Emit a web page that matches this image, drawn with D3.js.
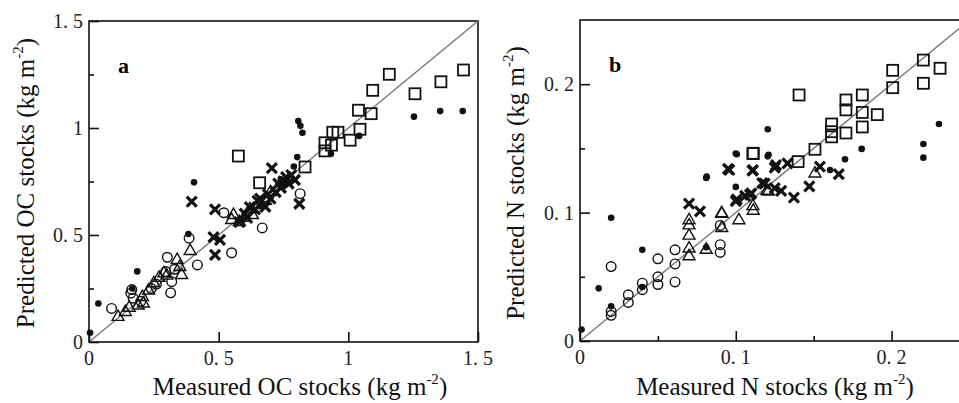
<!DOCTYPE html>
<html>
<head>
<meta charset="utf-8">
<script src="https://cdn.jsdelivr.net/npm/d3@7/dist/d3.min.js"></script>
<style>
  body { margin: 0; background: #fff; }
  svg { display: block; font-family: "Liberation Serif", "DejaVu Serif", serif; }
</style>
</head>
<body>
<svg id="chart" width="959" height="403"></svg>
<script>
// ---- panel a : OC stocks, [measured, predicted]
const ocDots = [[0.004,0.043],[0.036,0.18],[0.167,0.25],[0.186,0.33],[0.383,0.505],[0.405,0.746],
  [0.803,0.864],[0.807,1.033],[0.815,1.01],[0.823,0.978],[0.933,0.88],[1.042,0.963],
  [1.253,1.053],[1.354,1.079],[1.441,1.079],[0.74,0.76],[0.79,0.82],[0.66,0.64]];
const ocCircles = [[0.087,0.157],[0.161,0.228],[0.165,0.245],[0.17,0.205],[0.302,0.396],[0.296,0.329],
  [0.315,0.23],[0.319,0.282],[0.386,0.485],[0.418,0.36],[0.52,0.604],[0.55,0.417],[0.668,0.533],
  [0.814,0.693],[0.26,0.27],[0.2,0.19],[0.24,0.25],[0.33,0.34]];
const ocTriangles = [[0.112,0.117],[0.155,0.16],[0.21,0.18],[0.206,0.21],[0.25,0.274],[0.289,0.321],
  [0.34,0.383],[0.357,0.313],[0.39,0.425],[0.557,0.593],[0.63,0.593],[0.6,0.58],[0.58,0.56],
  [0.65,0.64],[0.68,0.66],[0.27,0.3],[0.3,0.31],[0.35,0.35],[0.14,0.14],[0.19,0.17],[0.23,0.24],
  [0.7,0.7],[0.55,0.57],[0.62,0.62]];
const ocCrosses = [[0.396,0.656],[0.486,0.62],[0.486,0.407],[0.505,0.477],[0.48,0.49],[0.705,0.812],
  [0.76,0.77],[0.68,0.632],[0.811,0.646],[0.794,0.757],[0.6,0.6],[0.62,0.63],[0.64,0.62],
  [0.66,0.67],[0.69,0.69],[0.72,0.7],[0.74,0.72],[0.75,0.75],[0.78,0.78],[0.58,0.56],
  [0.65,0.66],[0.7,0.67],[0.73,0.74],[0.61,0.58],[0.77,0.74]];
const ocSquares = [[0.576,0.869],[0.658,0.744],[0.833,0.818],[0.91,0.893],[0.91,0.931],[0.935,0.92],
  [0.94,0.98],[0.96,0.98],[1.007,0.943],[1.045,0.994],[1.039,1.083],[1.088,1.067],[1.094,1.176],
  [1.158,1.251],[1.257,1.16],[1.357,1.216],[1.444,1.271]];

// ---- panel b : N stocks
const nDots = [[0.001,0.009],[0.012,0.041],[0.02,0.096],[0.02,0.027],[0.04,0.071],[0.04,0.042],
  [0.081,0.127],[0.1,0.146],[0.1,0.12],[0.121,0.145],[0.081,0.073],[0.1205,0.1649],[0.1006,0.1454],
  [0.1205,0.1438],[0.0813,0.128],[0.1701,0.1415],[0.1808,0.1496],[0.1605,0.1332],[0.2204,0.1534],
  [0.2204,0.1428],[0.2304,0.169]];
const nCircles = [[0.02,0.058],[0.02,0.023],[0.02,0.02],[0.031,0.036],[0.031,0.03],[0.04,0.045],
  [0.04,0.04],[0.05,0.064],[0.05,0.05],[0.05,0.044],[0.061,0.071],[0.061,0.06],[0.061,0.046],
  [0.09,0.075],[0.09,0.069],[0.09,0.09]];
const nTriangles = [[0.07,0.094],[0.07,0.09],[0.07,0.082],[0.07,0.072],[0.07,0.066],[0.081,0.071],
  [0.091,0.099],[0.091,0.088],[0.102,0.094],[0.111,0.105],[0.12,0.117],[0.1508,0.1304],
  [0.1112,0.1014],[0.0909,0.0995],[0.1209,0.1164]];
const nCrosses = [[0.07,0.107],[0.077,0.101],[0.095,0.134],[0.111,0.133],[0.125,0.135],[0.1,0.109],
  [0.106,0.113],[0.11,0.115],[0.117,0.123],[0.125,0.119],[0.0958,0.1332],[0.1107,0.1327],
  [0.1258,0.137],[0.1332,0.1384],[0.154,0.1358],[0.1661,0.13],[0.1472,0.1204],[0.1373,0.1116],
  [0.1185,0.1225],[0.1291,0.117],[0.1006,0.1103],[0.1091,0.114]];
const nSquares = [[0.111,0.146],[0.1406,0.1916],[0.1112,0.1462],[0.1508,0.1493],[0.14,0.1397],
  [0.1615,0.169],[0.1615,0.163],[0.1615,0.159],[0.1707,0.1877],[0.1707,0.18],[0.1707,0.162],
  [0.1812,0.1916],[0.1812,0.178],[0.1812,0.1667],[0.1908,0.1763],[0.2007,0.2108],[0.2007,0.1973],
  [0.2204,0.2188],[0.2204,0.2007],[0.2311,0.2124]];

const ocTicks = [0, 0.5, 1, 1.5];
const ocTickLabels = ["0", "0. 5", "1", "1. 5"];
const nTicks = [0, 0.1, 0.2];
const nTickLabels = ["0", "0. 1", "0. 2"];

const svg = d3.select('#chart');

function drawPanel(cfg) {
  const g = svg.append('g');
  const x = d3.scaleLinear().domain([0, cfg.max]).range([cfg.left, cfg.left + cfg.w]);
  const y = d3.scaleLinear().domain([0, cfg.max]).range([cfg.top + cfg.h, cfg.top]);

  // frame
  g.append('rect')
    .attr('x', cfg.left).attr('y', cfg.top)
    .attr('width', cfg.w).attr('height', cfg.h)
    .attr('fill', 'none').attr('stroke', '#111').attr('stroke-width', 1.6);

  // 1:1 line
  g.append('line')
    .attr('x1', x(0)).attr('y1', y(0))
    .attr('x2', x(cfg.max)).attr('y2', y(cfg.max))
    .attr('stroke', '#777').attr('stroke-width', 1.4);

  // ticks (inward)
  const xAxis = d3.axisTop(x).tickValues(cfg.xTicks).tickSize(10).tickFormat('');
  g.append('g').attr('transform', `translate(0,${cfg.top + cfg.h})`).call(xAxis)
    .call(a => a.select('.domain').remove())
    .call(a => a.selectAll('line').attr('stroke', '#111').attr('stroke-width', 1.6));
  if (cfg.xMinor) {
    g.append('g').attr('transform', `translate(0,${cfg.top + cfg.h})`)
      .call(d3.axisTop(x).tickValues(cfg.xMinor).tickSize(5).tickFormat(''))
      .call(a => a.select('.domain').remove())
      .call(a => a.selectAll('line').attr('stroke', '#111').attr('stroke-width', 1.6));
  }
  g.append('g').attr('transform', `translate(${cfg.left},0)`)
    .call(d3.axisRight(y).tickValues(cfg.yTicks).tickSize(10).tickFormat(''))
    .call(a => a.select('.domain').remove())
    .call(a => a.selectAll('line').attr('stroke', '#111').attr('stroke-width', 1.6));
  g.append('g').attr('transform', `translate(${cfg.left},0)`)
    .call(d3.axisRight(y).tickValues(cfg.yMinor).tickSize(5).tickFormat(''))
    .call(a => a.select('.domain').remove())
    .call(a => a.selectAll('line').attr('stroke', '#111').attr('stroke-width', 1.6));

  // tick labels
  g.selectAll('.xl').data(cfg.xTicks).join('text')
    .attr('x', d => x(d)).attr('y', cfg.top + cfg.h + 23)
    .attr('text-anchor', 'middle').attr('font-size', 20).attr('fill', '#222')
    .text((d, i) => cfg.xLabels[i]);
  g.selectAll('.yl').data(cfg.yTicks).join('text')
    .attr('x', cfg.left - 6).attr('y', d => y(d) + 7)
    .attr('text-anchor', 'end').attr('font-size', 20).attr('fill', '#222')
    .text((d, i) => cfg.yLabels[i]);

  // panel letter
  g.append('text').attr('x', cfg.left + 29).attr('y', cfg.top + 52)
    .attr('font-size', 22).attr('font-weight', 'bold').text(cfg.letter);

  // axis titles
  const xt = g.append('text').attr('x', cfg.xTitleX).attr('y', 395)
    .attr('text-anchor', 'middle').attr('font-size', 25).attr('fill', '#111');
  xt.append('tspan').text(cfg.xTitle + ' (kg m');
  xt.append('tspan').attr('font-size', 15).attr('dy', -11).text('-2');
  xt.append('tspan').attr('dy', 11).text(')');

  const yt = g.append('text')
    .attr('transform', `translate(${cfg.yTitleX},183) rotate(-90)`)
    .attr('text-anchor', 'middle').attr('font-size', 25).attr('fill', '#111');
  yt.append('tspan').text(cfg.yTitle + ' (kg m');
  yt.append('tspan').attr('font-size', 15).attr('dy', -11).text('-2');
  yt.append('tspan').attr('dy', 11).text(')');

  // markers
  const m = g.append('g');
  m.selectAll('.sq').data(cfg.squares).join('rect')
    .attr('x', d => x(d[0]) - 5.5).attr('y', d => y(d[1]) - 5.5)
    .attr('width', 11).attr('height', 11)
    .attr('fill', 'none').attr('stroke', '#111').attr('stroke-width', 1.8);
  m.selectAll('.ci').data(cfg.circles).join('circle')
    .attr('cx', d => x(d[0])).attr('cy', d => y(d[1])).attr('r', 4.8)
    .attr('fill', 'none').attr('stroke', '#111').attr('stroke-width', 1.4);
  const tri = d3.symbol().type(d3.symbolTriangle).size(62);
  m.selectAll('.tr').data(cfg.triangles).join('path')
    .attr('d', tri)
    .attr('transform', d => `translate(${x(d[0])},${y(d[1])})`)
    .attr('fill', 'none').attr('stroke', '#111').attr('stroke-width', 1.4);
  m.selectAll('.cr').data(cfg.crosses).join('path')
    .attr('d', 'M-5,-5L5,5M-5,5L5,-5')
    .attr('transform', d => `translate(${x(d[0])},${y(d[1])})`)
    .attr('fill', 'none').attr('stroke', '#111').attr('stroke-width', 3.2);
  m.selectAll('.dt').data(cfg.dots).join('circle')
    .attr('cx', d => x(d[0])).attr('cy', d => y(d[1])).attr('r', 3.3)
    .attr('fill', '#111');
}

drawPanel({
  left: 89, top: 21, w: 389, h: 321, max: 1.5, letter: 'a',
  xTicks: ocTicks, xLabels: ocTickLabels, xMinor: null,
  yTicks: ocTicks, yLabels: ocTickLabels, yMinor: [0.25, 0.75, 1.25],
  xTitle: 'Measured OC stocks', yTitle: 'Predicted OC stocks',
  xTitleX: 300, yTitleX: 34,
  dots: ocDots, circles: ocCircles, triangles: ocTriangles, crosses: ocCrosses, squares: ocSquares
});

drawPanel({
  left: 580, top: 20, w: 389.5, h: 321, max: 0.25, letter: 'b',
  xTicks: nTicks, xLabels: nTickLabels, xMinor: [0.05, 0.15],
  yTicks: nTicks, yLabels: nTickLabels, yMinor: [0.05, 0.15],
  xTitle: 'Measured N stocks', yTitle: 'Predicted N stocks',
  xTitleX: 775, yTitleX: 524,
  dots: nDots, circles: nCircles, triangles: nTriangles, crosses: nCrosses, squares: nSquares
});
</script>
</body>
</html>
